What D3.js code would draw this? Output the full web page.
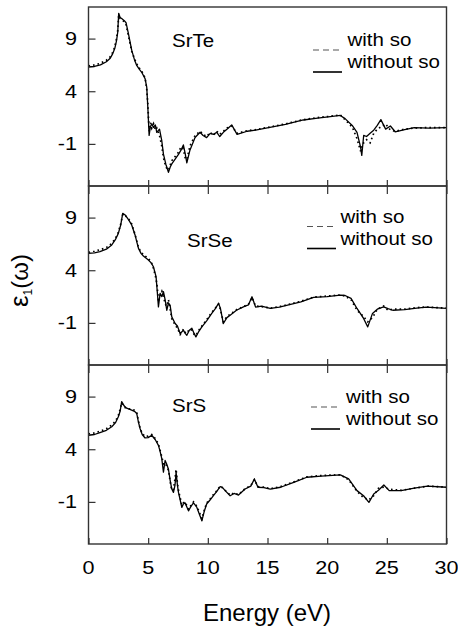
<!DOCTYPE html>
<html>
<head>
<meta charset="utf-8">
<script src="https://cdn.jsdelivr.net/npm/d3@7"></script>
<style>
  html, body { margin: 0; padding: 0; background: #fff; }
  svg { display: block; font-family: "Liberation Sans", Arial, sans-serif; }
</style>
</head>
<body>
<svg id="chart" width="458" height="628"></svg>
<script>
// Real part of the dielectric function for SrTe, SrSe and SrS, with and without spin-orbit coupling
const energyTicks = [0, 5, 10, 15, 20, 25, 30];
const epsTicks = [9, 4, -1];
const panelNames = ["SrTe", "SrSe", "SrS"];
const legendLabels = ["with so", "without so"];

// SrTe
const teEnergy = [0, 0.5, 1.0, 1.5, 1.8, 2.0, 2.2, 2.35, 2.45, 2.53, 2.65, 2.78, 3.0, 3.15, 3.34, 3.62, 3.85, 4.04, 4.25, 4.46, 4.74, 4.88, 4.97, 5.08, 5.18, 5.3, 5.45, 5.6, 5.72, 5.95, 6.14, 6.28, 6.48, 6.7, 6.85, 6.98, 7.26, 7.54, 7.75, 7.95, 8.1, 8.24, 8.5, 8.93, 9.35, 9.6, 9.9, 10.2, 10.47, 10.75, 11.0, 11.3, 11.6, 12.0, 12.45, 13.3, 14.0, 15.2, 16.5, 18.0, 19.2, 20.26, 21.1, 21.5, 22.1, 22.5, 22.8, 22.9, 23.06, 23.3, 23.6, 23.9, 24.2, 24.5, 24.9, 25.3, 25.7, 26.5, 27.3, 28.5, 30];
const teWithout = [6.3, 6.35, 6.5, 6.8, 7.1, 7.5, 8.05, 8.8, 9.6, 11.4, 11.0, 10.9, 10.7, 10.5, 9.5, 7.9, 7.0, 6.45, 6.1, 5.8, 5.2, 4.4, 2.5, -0.2, 0.6, 0.9, 0.57, 0.8, 0.09, 0.4, -0.7, -1.97, -2.93, -3.7, -3.2, -2.9, -2.45, -2.0, -1.6, -1.1, -1.9, -2.8, -1.6, -0.4, 0.1, -0.2, -0.4, 0.0, -0.1, 0.1, -0.3, 0.1, 0.4, 0.8, -0.1, 0.2, 0.3, 0.57, 0.85, 1.27, 1.45, 1.59, 1.7, 1.4, 0.75, 0.1, -1.3, -2.1, -0.2, -0.3, 0.0, 0.3, 0.75, 1.3, 0.4, 0.7, 0.15, 0.35, 0.55, 0.5, 0.55];
const teWith = [6.4, 6.5, 6.65, 6.95, 7.25, 7.65, 8.2, 9.0, 9.8, 11.2, 10.9, 10.8, 10.6, 10.3, 9.3, 7.8, 7.1, 6.6, 6.2, 5.9, 5.3, 4.2, 2.8, 0.2, 1.0, 0.5, 0.9, 0.3, 0.5, -0.2, -1.2, -2.3, -3.2, -3.5, -3.0, -2.6, -2.2, -1.8, -1.3, -1.5, -2.3, -2.5, -1.2, -0.2, 0.2, -0.1, -0.3, 0.1, -0.2, 0.2, -0.1, 0.2, 0.5, 0.7, 0.0, 0.25, 0.35, 0.6, 0.9, 1.3, 1.5, 1.62, 1.75, 1.3, 0.6, -0.5, -1.7, -1.2, -0.9, -0.6, -0.9, 0.0, 0.4, 0.6, 0.9, 0.3, 0.2, 0.4, 0.5, 0.55, 0.55];

// SrSe
const seEnergy = [0, 0.5, 0.96, 1.5, 1.95, 2.25, 2.5, 2.7, 2.87, 3.07, 3.35, 3.62, 3.9, 4.18, 4.4, 4.6, 5.02, 5.25, 5.44, 5.66, 5.76, 5.86, 6.0, 6.15, 6.28, 6.42, 6.56, 6.7, 6.84, 6.98, 7.26, 7.45, 7.68, 7.96, 8.1, 8.24, 8.45, 8.66, 8.85, 9.0, 9.25, 9.5, 9.9, 10.33, 10.6, 10.9, 11.05, 11.3, 11.6, 11.87, 12.4, 12.98, 13.4, 13.7, 14.0, 14.5, 15.23, 16.0, 16.6, 17.8, 18.86, 20.0, 21.1, 21.5, 22.0, 22.5, 23.05, 23.4, 23.8, 24.2, 24.73, 25.1, 25.5, 26.5, 27.5, 28.3, 30];
const seWithout = [5.6, 5.65, 5.76, 6.0, 6.4, 6.9, 7.5, 8.3, 9.4, 9.25, 8.8, 8.3, 7.35, 6.1, 5.6, 5.35, 4.97, 4.7, 4.33, 3.4, 2.0, 0.52, 1.8, 1.5, 1.97, 1.2, 0.2, 0.9, 0.67, -0.43, -1.06, -1.3, -2.0, -1.7, -2.0, -2.17, -1.7, -1.5, -2.0, -2.33, -1.8, -1.38, -0.8, -0.1, 0.3, 0.85, 0.4, -1.06, -0.5, -0.27, 0.2, 0.52, 0.7, 1.48, 0.5, 0.6, 0.37, 0.5, 0.67, 1.0, 1.42, 1.5, 1.64, 1.6, 1.33, 0.37, -0.58, -1.38, -0.1, 0.3, 0.52, 0.35, 0.2, 0.25, 0.4, 0.5, 0.37];
const seWith = [5.7, 5.8, 5.95, 6.15, 6.55, 7.0, 7.6, 8.4, 9.3, 9.2, 8.9, 8.4, 7.4, 6.2, 5.7, 5.5, 5.1, 4.8, 4.2, 3.2, 2.4, 1.0, 1.6, 2.0, 1.6, 0.8, 0.6, 1.2, 0.3, -0.6, -1.2, -1.5, -2.1, -1.6, -1.9, -2.0, -1.6, -1.7, -2.1, -2.2, -1.7, -1.3, -0.7, 0.0, 0.35, 0.8, 0.3, -0.9, -0.4, -0.2, 0.25, 0.55, 0.75, 1.4, 0.6, 0.55, 0.4, 0.55, 0.7, 1.05, 1.45, 1.55, 1.65, 1.55, 1.2, 0.2, -0.4, -0.9, -0.5, 0.3, 0.6, 0.2, 0.3, 0.3, 0.45, 0.5, 0.4];

// SrS
const sEnergy = [0, 0.5, 0.96, 1.5, 1.95, 2.25, 2.5, 2.65, 2.78, 3.0, 3.2, 3.62, 3.85, 4.04, 4.18, 4.32, 4.5, 4.74, 5.0, 5.3, 5.6, 5.86, 6.0, 6.14, 6.28, 6.42, 6.55, 6.7, 6.85, 6.98, 7.12, 7.25, 7.34, 7.45, 7.54, 7.68, 7.82, 7.95, 8.1, 8.25, 8.38, 8.6, 8.8, 9.07, 9.3, 9.5, 9.7, 9.9, 10.2, 10.47, 10.75, 11.03, 11.2, 11.45, 11.87, 12.2, 12.57, 13.12, 13.6, 13.9, 14.2, 14.7, 15.23, 16.1, 17.2, 18.3, 19.5, 21.1, 21.8, 22.5, 23.05, 23.5, 23.9, 24.3, 24.75, 25.2, 26.2, 27.3, 28.4, 30];
const sWithout = [5.33, 5.4, 5.58, 5.8, 6.13, 6.5, 7.09, 7.6, 8.52, 8.1, 7.9, 7.72, 7.6, 7.4, 6.6, 5.97, 5.4, 5.07, 5.1, 5.33, 4.9, 4.37, 3.8, 3.1, 1.82, 2.93, 2.6, 2.1, 1.0, 0.22, -0.1, 0.6, 1.82, 0.6, -0.1, -0.8, -1.53, -1.2, -1.1, -1.5, -1.85, -1.4, -1.1, -1.5, -2.2, -2.8, -1.9, -1.2, -0.8, -0.4, 0.0, 0.45, 0.4, 0.07, -0.42, -0.2, -0.35, 0.22, 0.5, 1.18, 0.39, 0.35, 0.22, 0.39, 0.85, 1.34, 1.45, 1.56, 1.18, 0.07, -0.42, -1.05, -0.25, 0.1, 0.6, 0.07, 0.07, 0.3, 0.5, 0.39];
const sWith = [5.45, 5.55, 5.7, 5.95, 6.3, 6.65, 7.2, 7.8, 8.4, 8.0, 7.85, 7.8, 7.7, 7.5, 6.7, 6.0, 5.5, 5.2, 5.25, 5.4, 5.0, 4.5, 3.9, 3.3, 2.6, 2.7, 2.4, 2.0, 0.9, 0.1, 0.2, 1.2, 2.1, 0.8, 0.1, -0.6, -1.3, -1.1, -1.0, -1.4, -1.7, -1.3, -1.0, -1.4, -2.0, -2.6, -1.8, -1.1, -0.7, -0.3, 0.05, 0.5, 0.35, 0.1, -0.35, -0.15, -0.3, 0.25, 0.55, 1.1, 0.45, 0.4, 0.25, 0.45, 0.9, 1.38, 1.5, 1.58, 1.1, 0.0, -0.6, -0.8, -0.4, 0.3, 0.4, 0.2, 0.1, 0.3, 0.5, 0.4];

const panelEnergy = [teEnergy, seEnergy, sEnergy];
const panelWithout = [teWithout, seWithout, sWithout];
const panelWith = [teWith, seWith, sWith];

const svg = d3.select("#chart");
const frameColor = "#333";

const plotLeft = 88.5, plotRight = 446.5;
const panelTops = [7, 186, 365];
const panelHeight = 179;

const x = d3.scaleLinear().domain([0, 30]).range([plotLeft, plotRight]);

// Positions of names and legends inside each panel
const nameAt = [[172, 47], [187, 247], [172, 412]];
const legendAt = [[313, 347.5, 46], [307, 340.5, 222.5], [311, 346, 403]];

panelTops.forEach((top, i) => {
  const y = d3.scaleLinear().domain([-5, 12]).range([top + panelHeight, top]);
  const g = svg.append("g");

  const line = d3.line()
    .x(d => x(d[0]))
    .y(d => y(d[1]))
    .curve(d3.curveLinear);

  const without = panelEnergy[i].map((e, k) => [e, panelWithout[i][k]]);
  const withSo = panelEnergy[i].map((e, k) => [e, panelWith[i][k]]);

  g.append("path").datum(without)
    .attr("d", line)
    .attr("fill", "none")
    .attr("stroke", "#000")
    .attr("stroke-width", 1.3)
    .attr("stroke-linejoin", "round");

  g.append("path").datum(withSo)
    .attr("d", line)
    .attr("fill", "none")
    .attr("stroke", "#000")
    .attr("stroke-width", 1.7)
    .attr("stroke-dasharray", "1.6,3");

  // frame
  g.append("rect")
    .attr("x", plotLeft).attr("y", top)
    .attr("width", plotRight - plotLeft).attr("height", panelHeight)
    .attr("fill", "none").attr("stroke", frameColor).attr("stroke-width", 1.4);

  // y ticks, drawn inward
  const yAxis = d3.axisLeft(y).tickValues(epsTicks).tickSizeInner(-7).tickSizeOuter(0).tickPadding(0).tickFormat("");
  const ya = g.append("g").attr("transform", `translate(${plotLeft},0)`).call(yAxis);
  ya.select(".domain").remove();
  ya.selectAll(".tick line").attr("stroke", frameColor).attr("stroke-width", 1.2);

  epsTicks.forEach(t => {
    g.append("text")
      .attr("transform", `translate(77,${y(t) + 6.5}) scale(1.2,1)`)
      .attr("text-anchor", "end")
      .attr("font-size", 18)
      .attr("fill", "#000")
      .text(t);
  });

  // x ticks on the bottom edge, pointing in
  const xb = d3.axisBottom(x).tickValues(energyTicks).tickSizeInner(-6).tickSizeOuter(0).tickFormat("");
  const xba = g.append("g").attr("transform", `translate(0,${top + panelHeight})`).call(xb);
  xba.select(".domain").remove();
  xba.selectAll(".tick line").attr("stroke", frameColor).attr("stroke-width", 1.2);

  // x ticks on the top edge for the lower panels
  if (i > 0) {
    const xt = d3.axisTop(x).tickValues(energyTicks).tickSizeInner(-8).tickSizeOuter(0).tickFormat("");
    const xta = g.append("g").attr("transform", `translate(0,${top})`).call(xt);
    xta.select(".domain").remove();
    xta.selectAll(".tick line").attr("stroke", frameColor).attr("stroke-width", 1.2);
  }

  // compound name
  g.append("text")
    .attr("transform", `translate(${nameAt[i][0]},${nameAt[i][1]}) scale(1.08,1)`)
    .attr("font-size", 19)
    .attr("fill", "#000")
    .text(panelNames[i]);

  // legend
  const [lx, tx, ly] = legendAt[i];
  g.append("line")
    .attr("x1", lx).attr("x2", lx + 29)
    .attr("y1", ly + 4).attr("y2", ly + 4)
    .attr("stroke", "#555").attr("stroke-width", 1.1)
    .attr("stroke-dasharray", "6,4");
  g.append("line")
    .attr("x1", lx).attr("x2", lx + 29)
    .attr("y1", ly + 26).attr("y2", ly + 26)
    .attr("stroke", "#000").attr("stroke-width", 1.6);
  legendLabels.forEach((lab, k) => {
    g.append("text")
      .attr("transform", `translate(${tx},${ly + k * 22}) scale(1.08,1)`)
      .attr("font-size", 19)
      .attr("fill", "#000")
      .text(lab);
  });

  // tick labels under the last panel
  if (i === panelTops.length - 1) {
    energyTicks.forEach(t => {
      g.append("text")
        .attr("transform", `translate(${x(t)},574) scale(1.2,1)`)
        .attr("text-anchor", "middle")
        .attr("font-size", 18)
        .attr("fill", "#000")
        .text(t);
    });
  }
});

// axis titles
svg.append("text")
  .attr("x", 267).attr("y", 621)
  .attr("text-anchor", "middle")
  .attr("font-size", 24)
  .attr("fill", "#000")
  .text("Energy (eV)");

const yTitle = svg.append("text")
  .attr("transform", "translate(28,307) rotate(-90)")
  .attr("font-size", 24)
  .attr("fill", "#000");
yTitle.append("tspan").attr("font-size", 26).text("ε");
yTitle.append("tspan").attr("font-size", 12).attr("dy", 4).text("1");
yTitle.append("tspan").attr("dy", -4).text("(ω)");
</script>
</body>
</html>
